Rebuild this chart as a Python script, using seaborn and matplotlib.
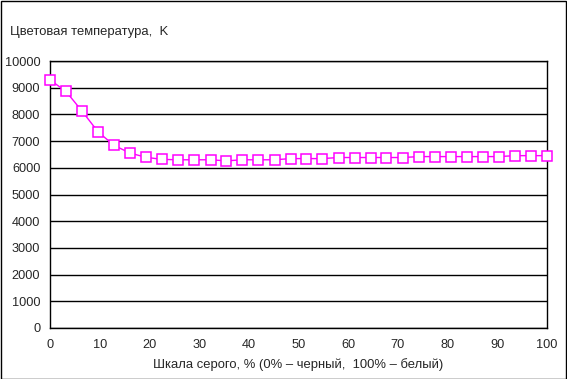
import numpy as np
import pandas as pd
import matplotlib
matplotlib.use("Agg")
import matplotlib.pyplot as plt
import seaborn as sns

# grey scale steps, % (32 steps from black to white)
gray_pct = [0.0, 3.2, 6.5, 9.7, 12.9, 16.1, 19.4, 22.6, 25.8, 29.0, 32.3,
            35.5, 38.7, 41.9, 45.2, 48.4, 51.6, 54.8, 58.1, 61.3, 64.5,
            67.7, 71.0, 74.2, 77.4, 80.6, 83.9, 87.1, 90.3, 93.5, 96.8, 100.0]
# colour temperature, K
temp_k = [9290, 8865, 8110, 7340, 6840, 6550, 6390, 6315, 6300, 6300, 6300,
          6260, 6300, 6300, 6300, 6345, 6345, 6345, 6385, 6385, 6385,
          6385, 6385, 6420, 6420, 6420, 6420, 6420, 6420, 6455, 6455, 6455]

df = pd.DataFrame({"x": gray_pct, "y": temp_k})

sns.set_style("white")
plt.rcParams["font.family"] = ["Liberation Sans", "DejaVu Sans"]

fig = plt.figure(figsize=(5.67, 3.79), dpi=100)
ax = fig.add_axes([50 / 567, 51 / 379, 497 / 567, 267 / 379])

sns.lineplot(data=df, x="x", y="y", ax=ax, color="#FF00FF", linewidth=1,
             marker="s", markersize=6.5, markerfacecolor="white",
             markeredgecolor="#FF00FF", markeredgewidth=1.1, clip_on=False,
             zorder=5)

ax.set_xlim(0, 100)
ax.set_ylim(0, 10000)
ax.set_xticks(range(0, 101, 10))
ax.set_yticks(range(0, 10001, 1000))
ax.yaxis.grid(True, color="black", linewidth=1)
ax.set_axisbelow(True)
for s in ax.spines.values():
    s.set_color("black")
    s.set_linewidth(1)
ax.tick_params(axis="both", which="both", direction="out", length=3,
               width=1, color="black", labelsize=9.2)
ax.tick_params(axis="x", pad=5)
ax.tick_params(axis="y", pad=4)
ax.set_xlabel("Шкала серого, % (0% – черный,  100% – белый)", fontsize=9.4,
              labelpad=5)
ax.set_ylabel("")

fig.text(10 / 567, 1 - 32 / 379, "Цветовая температура,  K", fontsize=9.4,
         va="center", ha="left")

# outer frame
fig.patches.append(plt.Rectangle((0.5 / 567, 0.5 / 379), 1 - 1.5 / 567,
                                 1 - 1.5 / 379, transform=fig.transFigure,
                                 fill=False, edgecolor="black", linewidth=1))

fig.savefig("out.png", dpi=100)
